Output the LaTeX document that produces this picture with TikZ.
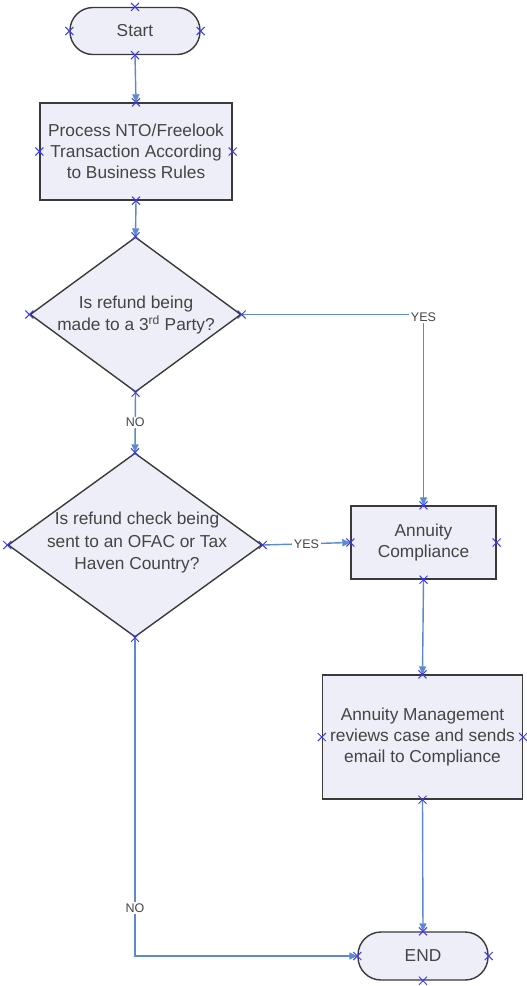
\documentclass[tikz,border=0pt]{standalone}
\usepackage{fontspec}
\setmainfont{Liberation Sans}
\usetikzlibrary{shapes.geometric,arrows.meta}

\definecolor{boxfill}{HTML}{EEEEF8}
\definecolor{boxline}{HTML}{3A3A3A}
\definecolor{flow}{HTML}{5B8ACF}
\definecolor{pin}{HTML}{3B3BF5}
\definecolor{txt}{HTML}{444444}

\tikzset{
  base/.style={draw=boxline, fill=boxfill, line width=1.4pt, inner sep=0pt,
    text=txt, font=\fontsize{17.3}{21}\selectfont, align=center},
  term/.style={base, rounded corners=23pt, minimum width=130pt, minimum height=47pt},
  procbox/.style={base},
  decision/.style={base, diamond},
  dtext/.style={text=txt, font=\fontsize{17.3}{22.5}\selectfont, align=center, inner sep=0pt},
  flowline/.style={draw=flow, line width=1.4pt, -{Triangle[length=8pt,width=7pt]}},
  lbl/.style={fill=white, text=txt, font=\fontsize{12.5}{14}\selectfont, inner sep=1.5pt},
  pinx/.style={draw=pin, line width=1pt},
}
\newcommand\pinmark[1]{\draw[pinx] (#1) +(-4,-4) -- +(4,4) +(-4,4) -- +(4,-4);}

\begin{document}
\begin{tikzpicture}[x=1pt,y=-1pt]
  \useasboundingbox (0,0) rectangle (527,986);
  \fill[white] (0,0) rectangle (527,986);

  % shapes
  \node[term] (st) at (135,31) {Start};
  \node[procbox, minimum width=192pt, minimum height=97pt] (pr) at (136,151.5)
    {Process NTO/Freelook\\Transaction According\\to Business Rules};
  \node[decision, minimum width=211pt, minimum height=155pt] (d1) at (135.5,314.5) {};
  \node[dtext] (d1t) at (136,315) {Is refund being\\made to a 3\textsuperscript{rd} Party?};
  \node[decision, minimum width=254pt, minimum height=184pt] (d2) at (135,545) {};
  \node[dtext] (d2t) at (137,543) {Is refund check being\\sent to an OFAC or Tax\\Haven Country?};
  \node[procbox, minimum width=145pt, minimum height=73pt] (ac) at (423.5,542.5)
    {Annuity\\Compliance};
  \node[procbox, minimum width=200pt, minimum height=124pt] (am) at (422.5,737)
    {Annuity Management\\reviews case and sends\\email to Compliance};
  \node[term, minimum height=48pt] (en) at (423,956) {END};

  % connectors
  \draw[flowline] (st.south) -- (pr.north);
  \draw[flowline] (pr.south) -- (d1.north);
  \draw[flowline] (d1.east) -- (d1.east -| ac.north) -- (ac.north);
  \node[lbl] (yes1) at ([yshift=-3pt]d1.east -| ac.north) {YES};
  \draw[flowline] (d1.south) -- node[lbl] (no1) {NO} (d2.north);
  \draw[flowline] (d2.east) -- node[lbl] (yes2) {YES} (ac.west);
  \draw[flowline] (d2.south) -- node[lbl, pos=0.85] (no2) {NO} (d2.south |- en.west) -- (en.west);
  \draw[flowline] (ac.south) -- (am.north);
  \draw[flowline] (am.south) -- (en.north);

  % connection points
  \foreach \n in {st,pr,d1,d2,ac,am,en}{
    \pinmark{\n.north}\pinmark{\n.south}\pinmark{\n.east}\pinmark{\n.west}
  }
\end{tikzpicture}
\end{document}
